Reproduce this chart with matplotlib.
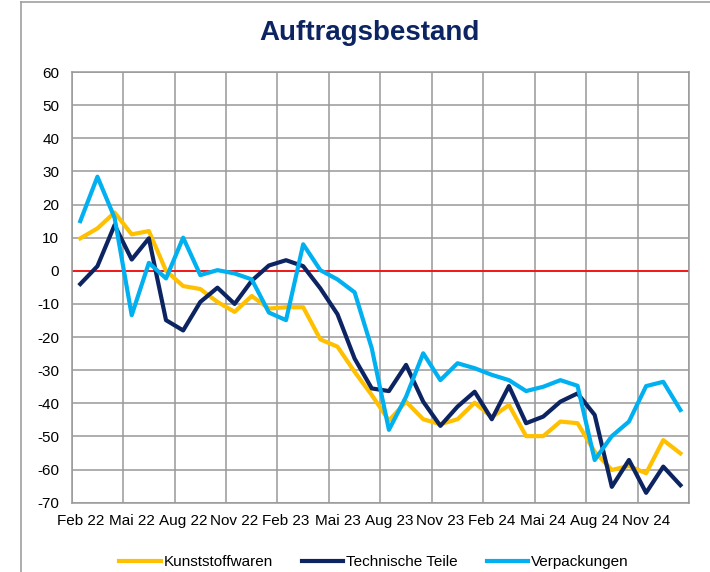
import numpy as np
import matplotlib
matplotlib.use('Agg')
import matplotlib.pyplot as plt
from matplotlib.lines import Line2D

plt.rcParams['font.family'] = ['Liberation Sans', 'DejaVu Sans']
plt.rcParams['axes.unicode_minus'] = False

# monthly values Feb 22 .. Jan 25
kunststoffwaren = [9.8, 12.8, 17.6, 11, 12, 0, -4.6, -5.5, -9.4, -12.4, -7.6, -11.4,
                   -11, -11, -20.7, -22.9, -30.5, -37.5, -45.2, -39.5, -44.8, -46.3, -44.8, -39.8,
                   -44.2, -40.5, -49.9, -49.9, -45.5, -46, -54.6, -60.1, -58.9, -61.1, -51.1, -55.1]
technische_teile = [-4, 1.4, 13.8, 3.4, 9.8, -14.9, -18, -9.4, -5.1, -10, -3, 1.6,
                    3.2, 1.4, -5.3, -13.1, -26.5, -35.5, -36.3, -28.4, -39.5, -46.8, -41, -36.5,
                    -44.8, -34.8, -46, -44, -39.5, -37, -43.5, -65.2, -57.1, -67, -59.1, -64.7]
verpackungen = [15, 28.4, 16, -13.4, 2.4, -2.3, 10, -1.3, 0.2, -0.8, -2.6, -12.6,
                -14.9, 8, 0.2, -2.6, -6.5, -23.4, -48, -38, -24.9, -33, -27.9, -29.4,
                -31.4, -33, -36.3, -35, -33, -34.7, -57.1, -49.9, -45.5, -34.8, -33.5, -42]
tick_labels = ['Feb 22', 'Mai 22', 'Aug 22', 'Nov 22', 'Feb 23', 'Mai 23',
               'Aug 23', 'Nov 23', 'Feb 24', 'Mai 24', 'Aug 24', 'Nov 24']

x = np.arange(len(kunststoffwaren))
grid_col = '#999999'

fig = plt.figure(figsize=(7.1, 5.72), dpi=100)
ax = fig.add_axes([0.101, 0.1211, 0.8694, 0.753])

ax.plot(x, kunststoffwaren, color='#FFC000', lw=3, label='Kunststoffwaren', zorder=3)
ax.plot(x, technische_teile, color='#0C2461', lw=3, label='Technische Teile', zorder=3)
ax.plot(x, verpackungen, color='#00B0F0', lw=3, label='Verpackungen', zorder=3)
ax.axhline(0, color='red', lw=1.2, zorder=2)

ax.set_xlim(-0.5, len(x) - 0.5)
ax.set_ylim(-70, 60)
ax.set_yticks(np.arange(-70, 61, 10))
ax.set_xticks(x[::3])
ax.set_xticklabels(tick_labels)
ax.set_xticks(np.arange(-0.5, len(x), 3), minor=True)
ax.grid(True, which='minor', axis='x', color=grid_col, lw=1.1)
ax.grid(True, which='major', axis='y', color=grid_col, lw=1.1)
ax.tick_params(axis='both', which='both', length=0, labelsize=11)
ax.tick_params(axis='x', pad=8)
ax.tick_params(axis='y', pad=9)
for s in ax.spines.values():
    s.set_color(grid_col)
    s.set_linewidth(1.1)

fig.text(0.521, 0.942, 'Auftragsbestand', ha='center', va='center',
         fontsize=20, fontweight='bold', color='#0C2461')

fig.legend(loc='center', bbox_to_anchor=(0.527, 0.017), ncol=3, frameon=False,
           fontsize=11, handlelength=2.7, columnspacing=1.9, handletextpad=0.2)

# outer chart border (top and left only visible)
fig.add_artist(Line2D([21 / 710, 1], [1 - 1.5 / 572, 1 - 1.5 / 572], color='#a0a0a0', lw=1.2))
fig.add_artist(Line2D([21 / 710, 21 / 710], [0, 1 - 1.5 / 572], color='#a0a0a0', lw=1.2))

fig.savefig('out.png', dpi=100)
